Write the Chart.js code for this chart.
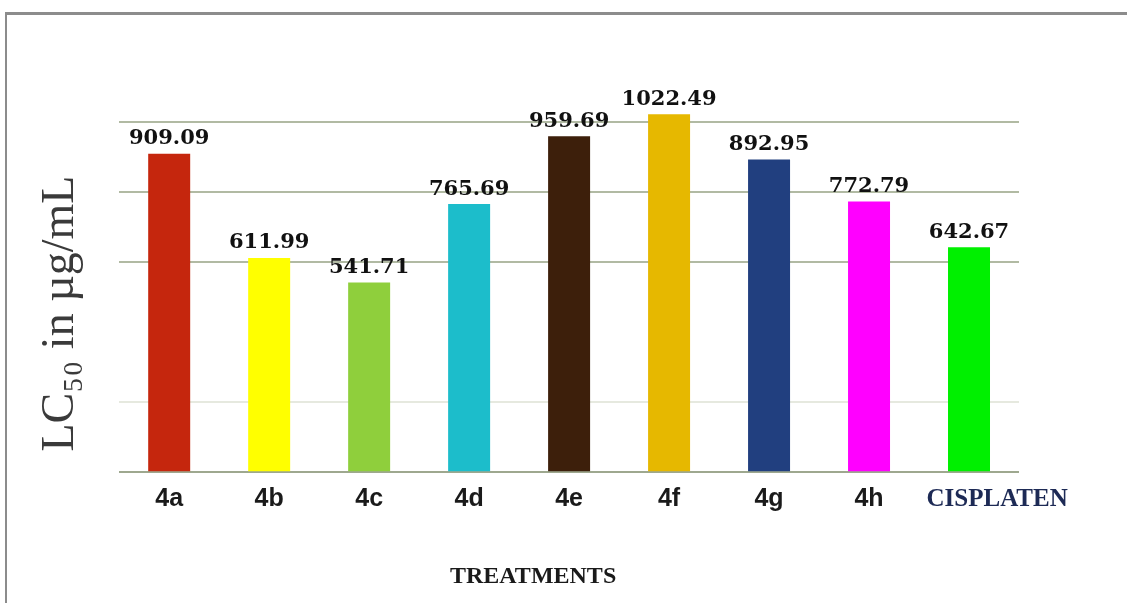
<!DOCTYPE html>
<html>
<head>
<meta charset="utf-8">
<script src="https://cdn.jsdelivr.net/npm/chart.js@4.4.0/dist/chart.umd.min.js"></script>
<style>
  body { margin: 0; background: #fff; }
  #wrap { position: relative; width: 1127px; height: 603px; overflow: hidden; }
  #frame {
    position: absolute; left: 5px; top: 12px; right: -10px; bottom: -10px;
    border-top: 3px solid #8c8c8c; border-left: 2px solid #8c8c8c;
  }
  #chart { position: absolute; left: 0; top: 0; }
</style>
</head>
<body>
<div id="wrap">
  <div id="frame"></div>
  <canvas id="chart" width="1127" height="603"></canvas>
</div>
<script>
let treatments = ["4a", "4b", "4c", "4d", "4e", "4f", "4g", "4h", "CISPLATEN"];
let lc50_values = [909.09, 611.99, 541.71, 765.69, 959.69, 1022.49, 892.95, 772.79, 642.67];
let bar_colors = ["#c5260d", "#ffff00", "#8fcf3c", "#1cbdcb", "#3d1f0b", "#e6b800", "#213f7f", "#ff00ff", "#00f000"];

// value printed above each bar
let value_labels = {
  id: "valueLabels",
  afterDatasetsDraw(chart) {
    let ctx = chart.ctx;
    let meta = chart.getDatasetMeta(0);
    ctx.save();
    ctx.font = "bold 21px 'DejaVu Serif'";
    ctx.fillStyle = "#111";
    ctx.textAlign = "center";
    ctx.textBaseline = "middle";
    for (let i = 0; i < meta.data.length; i++) {
      let bar = meta.data[i];
      ctx.fillText(lc50_values[i].toFixed(2), bar.x, bar.y - 15);
    }
    ctx.restore();
  },
};

function gridColor(context) {
  let v = context.tick ? context.tick.value : null;
  if (v === 0) return "#9ea88f";
  if (v === 200) return "#e6e9df";
  if (v === 400 || v === 1200) return "rgba(0,0,0,0)";
  return "#b1baa3";
}

let config = {
  type: "bar",
  data: {
    labels: treatments,
    datasets: [
      {
        data: lc50_values,
        backgroundColor: bar_colors,
        barPercentage: 0.84,
        categoryPercentage: 0.5,
      },
    ],
  },
  plugins: [value_labels],
  options: {
    responsive: false,
    animation: false,
    layout: { padding: { left: 33, right: 108, top: 52, bottom: 12 } },
    plugins: {
      legend: { display: false },
      tooltip: { enabled: false },
    },
    scales: {
      x: {
        grid: { display: false, drawTicks: false },
        border: { display: false },
        ticks: {
          autoSkip: false,
          maxRotation: 0,
          padding: 12,
          color: function (context) {
            return context.index === 8 ? "#1d2a55" : "#1a1a1a";
          },
          font: function (context) {
            if (context.index === 8) {
              return { family: "'Liberation Serif'", weight: "bold", size: 25 };
            }
            return { family: "'Liberation Sans'", weight: "bold", size: 25 };
          },
          callback: function (value, index) {
            let label = treatments[index];
            return index === 8 ? "\u2003\u2003 " + label : label;
          },
        },
        title: {
          display: true,
          text: "TREATMENTS\u2003\u2003\u2003",
          color: "#1a1a1a",
          font: { family: "'Liberation Serif'", weight: "bold", size: 24 },
          padding: { top: 36, bottom: 0 },
        },
      },
      y: {
        min: 0,
        max: 1200,
        ticks: { display: false, stepSize: 200 },
        border: { display: false },
        grid: { color: gridColor, lineWidth: 2, drawTicks: false },
        title: {
          display: true,
          align: "start",
          text: " \u2009LC\u2085\u2080 in \u00b5g/mL",
          color: "#3a3a3a",
          font: { family: "'Liberation Serif'", size: 46 },
          padding: { top: 0, bottom: 31 },
        },
      },
    },
  },
};

let chart = new Chart(document.getElementById("chart"), config);
</script>
</body>
</html>
